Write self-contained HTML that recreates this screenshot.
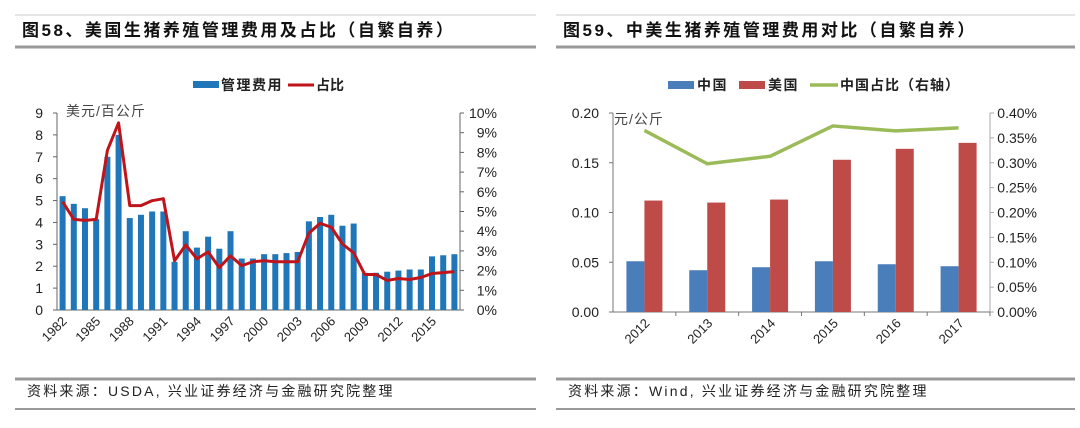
<!DOCTYPE html>
<html><head><meta charset="utf-8"><style>
body{margin:0;background:#fff;width:1080px;height:423px;overflow:hidden;font-family:"Liberation Sans","Noto Sans CJK SC",sans-serif}
svg text{font-family:"Liberation Sans","Noto Sans CJK SC",sans-serif}
</style></head><body>
<svg id="s" width="1080" height="423" xmlns="http://www.w3.org/2000/svg">
<g>
<line x1="15" y1="15" x2="536" y2="15" stroke="#ccc" stroke-width="1"/>
<line x1="15" y1="47" x2="536" y2="47" stroke="#999" stroke-width="3"/>
<text x="22" y="36" font-size="17" font-weight="bold" fill="#111" letter-spacing="2.5">图58、美国生猪养殖管理费用及占比（自繁自养）</text>
<line x1="15" y1="379" x2="536" y2="379" stroke="#999" stroke-width="3"/>
<text x="27" y="396" font-size="14" fill="#222" letter-spacing="2.2">资料来源：USDA, 兴业证券经济与金融研究院整理</text>
<line x1="15" y1="409" x2="536" y2="409" stroke="#333" stroke-width="1"/>
</g>
<g>
<line x1="556" y1="15" x2="1075" y2="15" stroke="#ccc" stroke-width="1"/>
<line x1="556" y1="47" x2="1075" y2="47" stroke="#999" stroke-width="3"/>
<text x="563" y="36" font-size="17" font-weight="bold" fill="#111" letter-spacing="2.5">图59、中美生猪养殖管理费用对比（自繁自养）</text>
<line x1="556" y1="379" x2="1075" y2="379" stroke="#999" stroke-width="3"/>
<text x="568" y="396" font-size="14" fill="#222" letter-spacing="2.2">资料来源：Wind, 兴业证券经济与金融研究院整理</text>
<line x1="556" y1="409" x2="1075" y2="409" stroke="#333" stroke-width="1"/>
</g>
<g id="L"></g>
<g id="R"></g>
</svg>
<script>
const years = [1982,1983,1984,1985,1986,1987,1988,1989,1990,1991,1992,1993,1994,1995,1996,1997,1998,1999,2000,2001,2002,2003,2004,2005,2006,2007,2008,2009,2010,2011,2012,2013,2014,2015,2016,2017];
const mgmtCost = [5.2,4.85,4.65,4.15,7.0,8.0,4.2,4.35,4.5,4.5,2.2,3.6,2.85,3.35,2.8,3.6,2.35,2.35,2.55,2.55,2.6,2.65,4.05,4.25,4.35,3.85,3.95,1.7,1.7,1.75,1.8,1.85,1.85,2.45,2.5,2.55];
const costShare = [5.5,4.6,4.55,4.6,8.1,9.5,5.3,5.3,5.55,5.65,2.5,3.3,2.6,2.95,2.15,2.75,2.25,2.45,2.5,2.45,2.45,2.45,3.9,4.4,4.2,3.35,2.9,1.8,1.8,1.5,1.6,1.55,1.65,1.85,1.9,1.95];
const leftTicks = [0,1,2,3,4,5,6,7,8,9];
const rightTicks = [0,1,2,3,4,5,6,7,8,9,10];
const xLabelYears = [1982,1985,1988,1991,1994,1997,2000,2003,2006,2009,2012,2015];

const cats = ['2012','2013','2014','2015','2016','2017'];
const chinaCost = [0.051,0.042,0.045,0.051,0.048,0.046];
const usCost = [0.112,0.110,0.113,0.153,0.164,0.170];
const chinaShare = [0.365,0.298,0.313,0.374,0.364,0.370];
const rLeftTicks = [0,0.05,0.10,0.15,0.20];
const rRightTicks = [0,0.05,0.10,0.15,0.20,0.25,0.30,0.35,0.40];

const NS='http://www.w3.org/2000/svg';
function mk(p,t,a,txt){const e=document.createElementNS(NS,t);for(const k in a)e.setAttribute(k,a[k]);if(txt!==undefined)e.textContent=txt;p.appendChild(e);return e;}

(function(){
const g=document.getElementById('L');
const x0=57,x1=460,yB=310,yT=113;
const bw=(x1-x0)/years.length;
const y=v=>yB-(v/9)*(yB-yT);
const y2=v=>yB-(v/10)*(yB-yT);
const xc=i=>x0+bw*(i+0.5);
mk(g,'line',{x1:x0,y1:yT,x2:x0,y2:yB,stroke:'#666'});
mk(g,'line',{x1:x1,y1:yT,x2:x1,y2:yB,stroke:'#666'});
mk(g,'line',{x1:x0,y1:yB,x2:x1,y2:yB,stroke:'#666'});
leftTicks.forEach(v=>{
 mk(g,'line',{x1:x0-4,y1:y(v),x2:x0,y2:y(v),stroke:'#666'});
 const t=mk(g,'text',{x:x0-14,y:y(v)+5,'font-size':14,'text-anchor':'end',fill:'#222'},v);
 
 
});
rightTicks.forEach(v=>{
 mk(g,'line',{x1:x1,y1:y2(v),x2:x1+4,y2:y2(v),stroke:'#666'});
 const t=mk(g,'text',{x:x1+37,y:y2(v)+5,'font-size':14,'text-anchor':'end',fill:'#222'},v+'%');
 
 
});
years.forEach((yr,i)=>{
 const r=mk(g,'rect',{x:xc(i)-3,y:y(mgmtCost[i]),width:6,height:yB-y(mgmtCost[i]),fill:'#1f77b9'});
 
 
 if(xLabelYears.includes(yr)){
  const t=mk(g,'text',{x:0,y:0,'font-size':13,'text-anchor':'end',fill:'#222',transform:`translate(${xc(i)+5},${yB+12}) rotate(-45)`},yr);
  
  
 }
});
const pl=mk(g,'polyline',{points:costShare.map((v,i)=>xc(i)+','+y2(v)).join(' '),fill:'none',stroke:'#c0141b','stroke-width':3,'stroke-linejoin':'round'});


const u=mk(g,'text',{x:66,y:116,'font-size':14,fill:'#444','letter-spacing':1},'美元/百公斤');


const lg=mk(g,'g',{});


mk(lg,'rect',{x:193,y:81,width:26,height:7,fill:'#1f77b9'});
mk(lg,'text',{x:221,y:90,'font-size':14,'font-weight':'bold',fill:'#222','letter-spacing':1.5},'管理费用');
mk(lg,'line',{x1:288,y1:85,x2:314,y2:85,stroke:'#c0141b','stroke-width':3});
mk(lg,'text',{x:316,y:90,'font-size':14,'font-weight':'bold',fill:'#222'},'占比');
})();

(function(){
const g=document.getElementById('R');
const x0=613,x1=990,yB=312,yT=113;
const cw=(x1-x0)/cats.length;
const y=v=>yB-(v/0.20)*(yB-yT);
const y2=v=>yB-(v/0.40)*(yB-yT);
const xc=i=>x0+cw*(i+0.5);
mk(g,'line',{x1:x0,y1:yT,x2:x0,y2:yB,stroke:'#777'});
mk(g,'line',{x1:x1,y1:yT,x2:x1,y2:yB,stroke:'#aaa'});
mk(g,'line',{x1:x0,y1:yB,x2:x1,y2:yB,stroke:'#777'});
rLeftTicks.forEach(v=>{
 mk(g,'line',{x1:x0-4,y1:y(v),x2:x0,y2:y(v),stroke:'#777'});
 const t=mk(g,'text',{x:x0-14,y:y(v)+5,'font-size':14,'text-anchor':'end',fill:'#222'},v.toFixed(2));
 
 
});
rRightTicks.forEach(v=>{
 mk(g,'line',{x1:x1,y1:y2(v),x2:x1+4,y2:y2(v),stroke:'#aaa'});
 const t=mk(g,'text',{x:1037,y:y2(v)+5,'font-size':14,'text-anchor':'end',fill:'#222'},v.toFixed(2)+'%');
 
 
});
cats.forEach((c,i)=>{
 mk(g,'line',{x1:x0+cw*(i+1),y1:yB,x2:x0+cw*(i+1),y2:yB+4,stroke:'#777'});
 const b1=mk(g,'rect',{x:xc(i)-18,y:y(chinaCost[i]),width:18,height:yB-y(chinaCost[i]),fill:'#4a7ebb'});
 
 
 const b2=mk(g,'rect',{x:xc(i),y:y(usCost[i]),width:18,height:yB-y(usCost[i]),fill:'#be4b48'});
 
 
 const t=mk(g,'text',{x:0,y:0,'font-size':13,'text-anchor':'end',fill:'#222',transform:`translate(${xc(i)+6},${yB+12}) rotate(-45)`},c);
 
 
});
const pl=mk(g,'polyline',{points:chinaShare.map((v,i)=>xc(i)+','+y2(v)).join(' '),fill:'none',stroke:'#9bbb59','stroke-width':3.5,'stroke-linejoin':'round'});


const u=mk(g,'text',{x:614,y:124,'font-size':14,fill:'#444','letter-spacing':1},'元/公斤');


const lg=mk(g,'g',{});


mk(lg,'rect',{x:668,y:81,width:26,height:8,fill:'#4a7ebb'});
mk(lg,'text',{x:697,y:90,'font-size':14,'font-weight':'bold',fill:'#222','letter-spacing':1.5},'中国');
mk(lg,'rect',{x:739,y:81,width:26,height:8,fill:'#be4b48'});
mk(lg,'text',{x:768,y:90,'font-size':14,'font-weight':'bold',fill:'#222','letter-spacing':1.5},'美国');
mk(lg,'line',{x1:810,y1:85,x2:838,y2:85,stroke:'#9bbb59','stroke-width':3.5});
mk(lg,'text',{x:840,y:90,'font-size':14,'font-weight':'bold',fill:'#222','letter-spacing':1},'中国占比（右轴）');
})();
</script>
</body></html>
